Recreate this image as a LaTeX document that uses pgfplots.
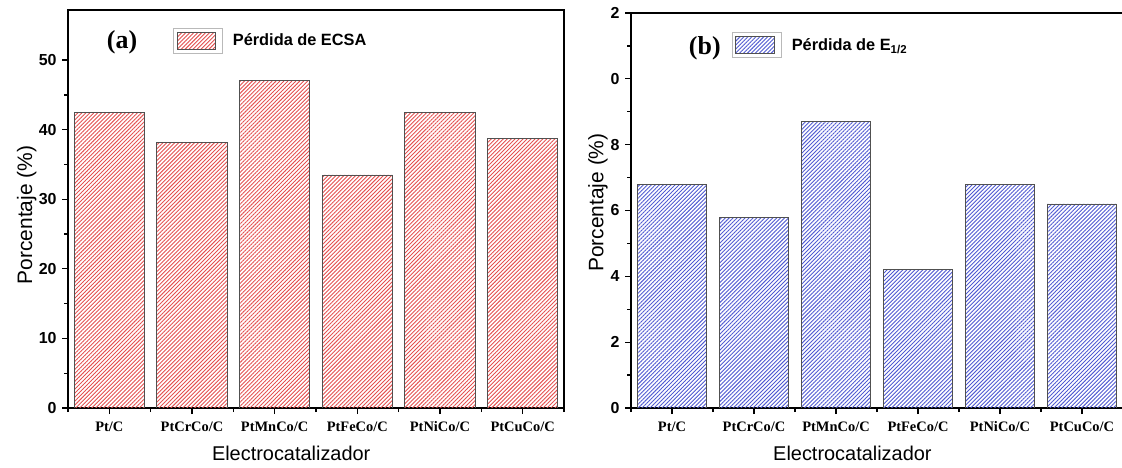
\documentclass[border=0pt]{standalone}
\usepackage{pgfplots}
\pgfplotsset{compat=1.18}
\usetikzlibrary{patterns.meta}
\usepackage{fontspec}
\setmainfont{Liberation Sans}
\newfontfamily\serif{Liberation Serif}
\definecolor{hred}{RGB}{228,80,80}
\definecolor{hblue}{RGB}{80,90,210}
\definecolor{edge}{RGB}{80,80,80}

\pgfplotsset{
  panel/.style={
    scale only axis,
    ybar, bar width=0.85,
    xmin=-0.5, xmax=5.5, ymin=0,
    xtick={0,...,5},
    xticklabels={Pt/C,PtCrCo/C,PtMnCo/C,PtFeCo/C,PtNiCo/C,PtCuCo/C},
    minor xtick={-0.5,0.5,...,5.5},
    minor y tick num=1,
    tick align=outside, tick pos=left,
    major tick length=6bp, minor tick length=4bp,
    tick style={black, line width=1.3bp},
    axis line style={line width=1.6bp},
    xticklabel style={font=\serif\bfseries\fontsize{14.5}{14.5}\selectfont, text height=10bp, text depth=3bp, yshift=-4bp},
    yticklabel style={font=\bfseries\fontsize{16}{16}\selectfont, xshift=-2bp},
    /pgf/number format/assume math mode=true,
    xlabel={Electrocatalizador}, ylabel={Porcentaje (\%)},
    xlabel style={font=\fontsize{20}{20}\selectfont, at={(axis description cs:0.45,0)}, anchor=center, yshift=-45bp},
    ylabel style={font=\fontsize{21}{21}\selectfont},
    legend cell align=left,
    legend style={draw=none, fill=none, inner sep=0pt, outer sep=0pt,
      nodes={inner sep=0pt, outer sep=0pt},
      font=\bfseries\fontsize{16.4}{16.4}\selectfont},
  }
}

\begin{document}
\begin{tikzpicture}
\useasboundingbox (0,0) rectangle (1122bp,468bp);

% ---------- (a) ----------
\begin{axis}[panel,
  at={(68bp,60bp)}, anchor=south west,
  width=496bp, height=398bp,
  ymax=57.2,
  ytick={0,10,...,50},
  ylabel style={at={(axis description cs:-0.083,0.485)}, anchor=center},
  legend style={at={(rel axis cs:0.2117,0.923)}, anchor=west},
  legend image code/.code={
    \draw[draw=gray!55, fill=white, line width=1bp] (0bp,-12.5bp) rectangle (49bp,12.5bp);
    \draw[draw=edge, line width=0.8bp, pattern={Lines[angle=45,distance=2.8bp,line width=0.9bp]}, pattern color=hred] (3.5bp,-8.5bp) rectangle (42bp,8.5bp);
    \path (59bp,0bp);
  },
]
\addplot[draw=edge, line width=0.8bp, pattern={Lines[angle=45,distance=2.8bp,line width=0.9bp]}, pattern color=hred]
  coordinates {(0,42.5) (1,38.2) (2,47.1) (3,33.5) (4,42.5) (5,38.7)};
\addlegendentry{Pérdida de ECSA}
\node[font=\serif\bfseries\fontsize{26}{26}\selectfont] at (rel axis cs:0.109,0.92) {(a)};
\end{axis}

% ---------- (b) ----------
\begin{axis}[panel,
  at={(631bp,60bp)}, anchor=south west,
  width=492bp, height=395bp,
  ymax=12,
  ytick={0,2,...,12},
  yticklabels={0,2,4,6,8,0,2},
  ylabel style={at={(axis description cs:-0.067,0.52)}, anchor=center},
  legend style={at={(rel axis cs:0.205,0.918)}, anchor=west},
  legend image code/.code={
    \draw[draw=gray!55, fill=white, line width=1bp] (0bp,-12.5bp) rectangle (49bp,12.5bp);
    \draw[draw=edge, line width=0.8bp, pattern={Lines[angle=45,distance=2.8bp,line width=0.9bp]}, pattern color=hblue] (3.5bp,-8.5bp) rectangle (42bp,8.5bp);
    \path (59bp,0bp);
  },
]
\addplot[draw=edge, line width=0.8bp, pattern={Lines[angle=45,distance=2.8bp,line width=0.9bp]}, pattern color=hblue]
  coordinates {(0,6.8) (1,5.8) (2,8.7) (3,4.2) (4,6.8) (5,6.2)};
\addlegendentry{Pérdida de E\textsubscript{1/2}}
\node[font=\serif\bfseries\fontsize{26}{26}\selectfont] at (rel axis cs:0.150,0.911) {(b)};
\end{axis}
\end{tikzpicture}
\end{document}
